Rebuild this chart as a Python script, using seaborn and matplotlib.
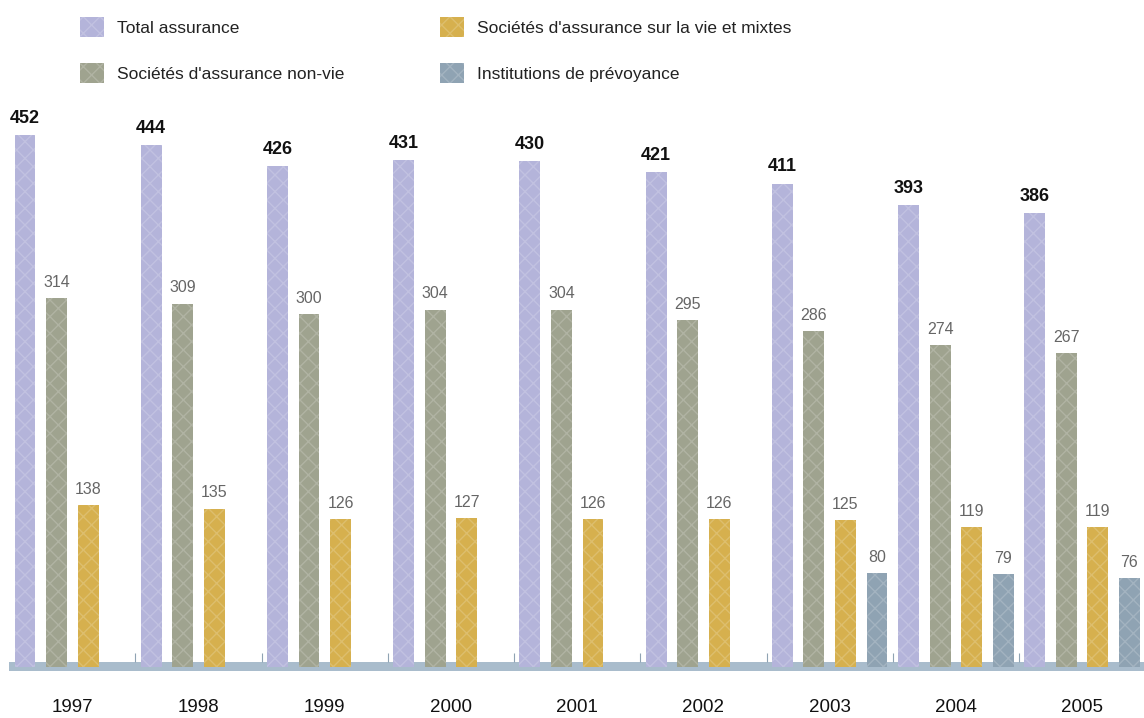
import matplotlib
matplotlib.use("Agg")
import matplotlib.pyplot as plt
import seaborn as sns
import pandas as pd
import numpy as np
from matplotlib.patches import Patch

years = ["1997", "1998", "1999", "2000", "2001", "2002", "2003", "2004", "2005"]
series_names = ["Total assurance", "Sociétés d'assurance non-vie",
                "Sociétés d'assurance sur la vie et mixtes", "Institutions de prévoyance"]
total = [452, 444, 426, 431, 430, 421, 411, 393, 386]
non_vie = [314, 309, 300, 304, 304, 295, 286, 274, 267]
vie = [138, 135, 126, 127, 126, 126, 125, 119, 119]
prevoyance = [None, None, None, None, None, None, 80, 79, 76]

colors = ["#b4b4da", "#9fa38f", "#d6b04e", "#8fa3b3"]

rows = []
for name, vals in zip(series_names, [total, non_vie, vie, prevoyance]):
    for y, v in zip(years, vals):
        rows.append({"Année": y, "Série": name, "Valeur": np.nan if v is None else v})
df = pd.DataFrame(rows)

sns.set_style("white")
FAM = ["Liberation Sans", "DejaVu Sans"]
plt.rcParams["font.family"] = FAM

fig = plt.figure(figsize=(11.44, 7.18), dpi=100)
ax = fig.add_axes([9.2 / 1144, 47 / 718, 1136 / 1144, 592 / 718])

sns.barplot(data=df, x="Année", y="Valeur", hue="Série", hue_order=series_names,
            order=years, palette=colors, width=1.0, gap=0.34, ax=ax,
            saturation=1, errorbar=None, legend=False, linewidth=0, zorder=3)

HATCH_EC = (1, 1, 1, 0.18)
for patch in ax.patches:
    patch.set_hatch("xx")
    patch.set_edgecolor(HATCH_EC)
    patch.set_linewidth(0)

ax.set_xlim(-0.5, 8.5)
ax.set_ylim(-3, 500)

# baseline band
ax.axhspan(-3, 5, color="#a9bccc", zorder=1, lw=0)
ax.vlines(np.arange(0.5, 8.5, 1.0), 5, 12, color="#8fa3b3", lw=0.8, zorder=1)

# value labels
for si, (name, vals) in enumerate(zip(series_names, [total, non_vie, vie, prevoyance])):
    for i, v in enumerate(vals):
        if v is None:
            continue
        x = i - 0.375 + si * 0.25
        if si == 0:
            ax.annotate(str(v), (x, v), xytext=(0, 6), textcoords="offset points",
                        ha="center", va="bottom", fontsize=13, fontweight="bold",
                        color="#111111")
        else:
            ax.annotate(str(v), (x, v), xytext=(0, 6), textcoords="offset points",
                        ha="center", va="bottom", fontsize=11.5,
                        color="#666666")

ax.set_xlabel("")
ax.set_ylabel("")
ax.set_yticks([])
ax.tick_params(axis="x", length=0, pad=20, labelsize=13.5, labelcolor="#111111")
for s in ax.spines.values():
    s.set_visible(False)

# legend: two columns placed explicitly
handles = [Patch(facecolor=c, edgecolor=HATCH_EC, hatch="xx", lw=0) for c in colors]
common = dict(loc="upper left", frameon=False, fontsize=12.5, handlelength=1.4,
              handleheight=1.4, labelspacing=1.5, handletextpad=0.75,
              borderpad=0, borderaxespad=0, labelcolor="#222222")
fig.legend(handles[:2], series_names[:2], bbox_to_anchor=(80 / 1144, 1 - 17 / 718), **common)
fig.legend(handles[2:], series_names[2:], bbox_to_anchor=(440 / 1144, 1 - 17 / 718), **common)

fig.savefig("out.png", dpi=100)
